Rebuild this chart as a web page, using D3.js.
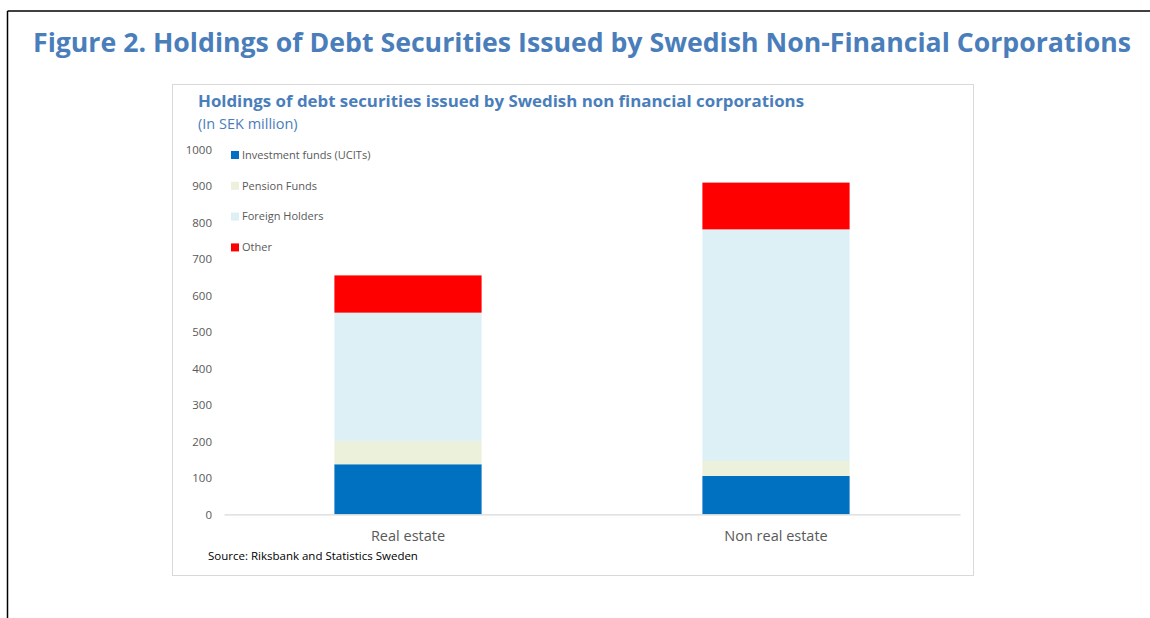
<!DOCTYPE html>
<html>
<head>
<meta charset="utf-8">
<script src="https://cdn.jsdelivr.net/npm/d3@7/dist/d3.min.js"></script>
<style>
  html, body { margin: 0; padding: 0; background: #fff; }
  svg { display: block; }
</style>
</head>
<body>
<svg id="chart" width="1150" height="618"></svg>
<script>
// Holders of debt securities, by issuing sector (SEK million)
const categories = ["Real estate", "Non real estate"];
const seriesNames = ["Investment funds (UCITs)", "Pension Funds", "Foreign Holders", "Other"];
const investmentFunds = [137, 105];
const pensionFunds = [64, 41];
const foreignHolders = [351, 634];
const other = [102, 128];
const yTicks = [0, 100, 200, 300, 400, 500, 600, 700, 800, 900, 1000];

const seriesValues = [investmentFunds, pensionFunds, foreignHolders, other];
const colors = ["#0070C0", "#EBF1DA", "#DDF0F5", "#FF0000"];

const svg = d3.select("#chart");
const blue = "#4A7EBB";
const grey = "#595959";

// outer frame (top and left rules)
svg.append("line").attr("x1", 7.5).attr("x2", 1150).attr("y1", 11).attr("y2", 11)
  .attr("stroke", "#000").attr("stroke-width", 1.5);
svg.append("line").attr("x1", 7.5).attr("x2", 7.5).attr("y1", 11).attr("y2", 618)
  .attr("stroke", "#000").attr("stroke-width", 1.5);

// figure title
svg.append("text")
  .attr("x", 33).attr("y", 52)
  .attr("font-family", "Open Sans, sans-serif")
  .attr("font-weight", "bold")
  .attr("font-size", 27)
  .attr("fill", blue)
  .attr("textLength", 1098)
  .attr("lengthAdjust", "spacingAndGlyphs")
  .text("Figure 2. Holdings of Debt Securities Issued by Swedish Non-Financial Corporations");

// chart panel
svg.append("rect")
  .attr("x", 172.5).attr("y", 84.5).attr("width", 801).attr("height", 491)
  .attr("fill", "#fff").attr("stroke", "#D9D9D9").attr("stroke-width", 1);

svg.append("text")
  .attr("x", 198).attr("y", 107)
  .attr("font-family", "Open Sans, sans-serif")
  .attr("font-weight", "bold")
  .attr("font-size", 16)
  .attr("fill", blue)
  .attr("textLength", 606)
  .attr("lengthAdjust", "spacingAndGlyphs")
  .text("Holdings of debt securities issued by Swedish non financial corporations");

svg.append("text")
  .attr("x", 198).attr("y", 129)
  .attr("font-family", "Open Sans, sans-serif")
  .attr("font-size", 14.5)
  .attr("fill", blue)
  .text("(In SEK million)");

// scales
const x = d3.scaleBand().domain(categories).range([224, 960]).paddingInner(0.6).paddingOuter(0.3);
const y = d3.scaleLinear().domain([0, 1000]).range([514.3, 149]);

// y axis labels (no line, no ticks)
const yAxis = d3.axisLeft(y).tickValues(yTicks).tickSize(0).tickPadding(0).tickFormat(d3.format("d"));
const yg = svg.append("g").attr("transform", "translate(212,0)").call(yAxis);
yg.select(".domain").remove();
yg.selectAll("text")
  .attr("font-family", "Open Sans, sans-serif")
  .attr("font-size", 11.5)
  .attr("fill", grey)
  .attr("dy", "0.35em");

// stacked bars
const table = categories.map((c, i) => {
  const row = { category: c };
  seriesNames.forEach((s, j) => row[s] = seriesValues[j][i]);
  return row;
});
const stacked = d3.stack().keys(seriesNames)(table);

svg.append("g").selectAll("g")
  .data(stacked)
  .join("g")
  .attr("fill", (d, i) => colors[i])
  .selectAll("rect")
  .data(d => d)
  .join("rect")
  .attr("x", d => x(d.data.category))
  .attr("width", x.bandwidth())
  .attr("y", d => y(d[1]))
  .attr("height", d => y(d[0]) - y(d[1]));

// category axis
const xAxis = d3.axisBottom(x).tickSize(0).tickPadding(0);
const xg = svg.append("g").attr("transform", `translate(0,${y(0)})`).call(xAxis);
xg.select(".domain").attr("stroke", "#D9D9D9").attr("stroke-width", 1.2);
xg.selectAll("text")
  .attr("font-family", "Open Sans, sans-serif")
  .attr("font-size", 14.5)
  .attr("fill", grey)
  .attr("dy", "1.85em");

// legend
const legend = svg.append("g");
seriesNames.forEach((s, i) => {
  const ly = 155 + i * 30.8;
  legend.append("rect").attr("x", 231).attr("y", ly - 4).attr("width", 8).attr("height", 8).attr("fill", colors[i]);
  legend.append("text")
    .attr("x", 242).attr("y", ly).attr("dy", "0.35em")
    .attr("font-family", "Open Sans, sans-serif")
    .attr("font-size", 11)
    .attr("fill", grey)
    .text(s);
});

// source note
svg.append("text")
  .attr("x", 208).attr("y", 560)
  .attr("font-family", "Open Sans, sans-serif")
  .attr("font-size", 11.5)
  .attr("fill", "#000")
  .text("Source: Riksbank and Statistics Sweden");
</script>
</body>
</html>
